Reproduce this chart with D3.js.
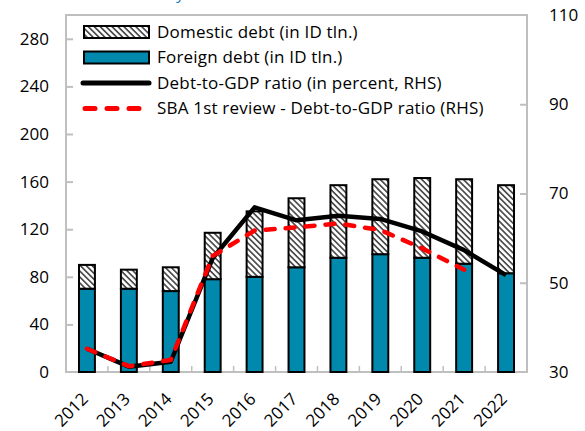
<!DOCTYPE html>
<html>
<head>
<meta charset="utf-8">
<script src="https://cdn.jsdelivr.net/npm/d3@7"></script>
<style>
  body { margin: 0; background: #fff; }
  svg { display: block; font-family: "Open Sans", "Noto Sans", sans-serif; }
</style>
</head>
<body>
<div id="container"></div>
<script>
const years = ["2012", "2013", "2014", "2015", "2016", "2017", "2018", "2019", "2020", "2021", "2022"];
const foreignDebt = [70, 70, 68, 78, 80, 88, 96, 99, 96, 91, 83];
const domesticDebt = [20, 16, 20, 39, 55, 58, 61, 63, 67, 71, 74];
const debtToGdp = [35.2, 31.2, 32.3, 55.5, 66.9, 64, 65, 64.3, 61.5, 57.3, 51.7];
const sbaReview = [35.2, 31.3, 32.7, 56, 61.7, 62.4, 63.3, 61.8, 57.7, 52.9];
const leftTicks = [0, 40, 80, 120, 160, 200, 240, 280];
const rightTicks = [30, 50, 70, 90, 110];

const width = 585;
const height = 431;
const marginTop = 15;
const marginRight = 58;
const marginBottom = 59;
const marginLeft = 66;

const svg = d3.select("#container")
  .append("svg")
  .attr("width", width)
  .attr("height", height);

const defs = svg.append("defs");
const hatch = defs.append("pattern")
  .attr("id", "hatch")
  .attr("patternUnits", "userSpaceOnUse")
  .attr("width", 4.2)
  .attr("height", 4.2)
  .attr("patternTransform", "rotate(45)");
hatch.append("rect").attr("width", 4.2).attr("height", 4.2).attr("fill", "#fff");
hatch.append("rect").attr("width", 4.2).attr("height", 1.7).attr("fill", "#4d4d4d");

const x = d3.scaleBand()
  .domain(years)
  .range([marginLeft, width - marginRight])
  .paddingInner(0.62)
  .paddingOuter(0.31);

const xLine = d => x(d) + x.bandwidth() / 2;

const y = d3.scaleLinear()
  .domain([0, 300])
  .range([height - marginBottom, marginTop]);

const y2 = d3.scaleLinear()
  .domain([30, 110])
  .range([height - marginBottom, marginTop]);

// frame
svg.append("rect")
  .attr("x", marginLeft)
  .attr("y", marginTop)
  .attr("width", width - marginLeft - marginRight)
  .attr("height", height - marginTop - marginBottom)
  .attr("fill", "none")
  .attr("stroke", "#bfbfbf")
  .attr("stroke-width", 2);

// title fragment, cut off at the top in the source
svg.append("text")
  .attr("x", 176)
  .attr("y", -1)
  .attr("fill", "#1f7fc4")
  .attr("font-size", 17)
  .text("y");

// left axis
const yAxis = svg.append("g")
  .attr("transform", `translate(${marginLeft},0)`)
  .call(d3.axisRight(y).tickValues(leftTicks).tickSize(7));
yAxis.select(".domain").remove();
yAxis.selectAll(".tick line").attr("stroke", "#bfbfbf").attr("stroke-width", 2).attr("x1", -1);
yAxis.selectAll(".tick text")
  .attr("text-anchor", "end")
  .attr("x", -17)
  .attr("font-size", 17)
  .attr("fill", "#000")
  .attr("font-family", "Open Sans, sans-serif");
yAxis.selectAll(".tick").filter(d => d === 0).select("line").remove();

// right axis
const y2Axis = svg.append("g")
  .attr("transform", `translate(${width - marginRight},0)`)
  .call(d3.axisLeft(y2).tickValues(rightTicks).tickSize(7));
y2Axis.select(".domain").remove();
y2Axis.selectAll(".tick line").attr("stroke", "#bfbfbf").attr("stroke-width", 2).attr("x1", 1);
y2Axis.selectAll(".tick").filter(d => d === 30 || d === 110).select("line").remove();
y2Axis.selectAll(".tick text")
  .attr("text-anchor", "start")
  .attr("x", 22)
  .attr("font-size", 17)
  .attr("fill", "#000")
  .attr("font-family", "Open Sans, sans-serif");

// x axis: small ticks between categories, rotated year labels
const step = x.step();
const xAxis = svg.append("g");
xAxis.selectAll("line")
  .data(years.slice(1))
  .enter()
  .append("line")
  .attr("x1", d => x(d) - x.paddingInner() * step / 2)
  .attr("x2", d => x(d) - x.paddingInner() * step / 2)
  .attr("y1", height - marginBottom)
  .attr("y2", height - marginBottom - 6)
  .attr("stroke", "#bfbfbf")
  .attr("stroke-width", 1.5);

xAxis.selectAll("text")
  .data(years)
  .enter()
  .append("text")
  .attr("transform", d => `translate(${xLine(d) - 2},${height - marginBottom + 24}) rotate(-45)`)
  .attr("text-anchor", "end")
  .attr("dy", "0.35em")
  .attr("font-size", 17)
  .text(d => d);

// bars
const bars = svg.append("g");
bars.selectAll(".foreign")
  .data(years)
  .enter()
  .append("rect")
  .attr("class", "foreign")
  .attr("x", d => x(d))
  .attr("width", x.bandwidth())
  .attr("y", (d, i) => y(foreignDebt[i]))
  .attr("height", (d, i) => y(0) - y(foreignDebt[i]))
  .attr("fill", "#0089ad")
  .attr("stroke", "#000")
  .attr("stroke-width", 2);

bars.selectAll(".domestic")
  .data(years)
  .enter()
  .append("rect")
  .attr("class", "domestic")
  .attr("x", d => x(d))
  .attr("width", x.bandwidth())
  .attr("y", (d, i) => y(foreignDebt[i] + domesticDebt[i]))
  .attr("height", (d, i) => y(foreignDebt[i]) - y(foreignDebt[i] + domesticDebt[i]))
  .attr("fill", "url(#hatch)")
  .attr("stroke", "#000")
  .attr("stroke-width", 2);

// lines
const line = d3.line()
  .x((d, i) => xLine(years[i]))
  .y(d => y2(d));

svg.append("path")
  .datum(debtToGdp)
  .attr("d", line)
  .attr("fill", "none")
  .attr("stroke", "#000")
  .attr("stroke-width", 4.5)
  .attr("stroke-linejoin", "round");

svg.append("path")
  .datum(sbaReview)
  .attr("d", line)
  .attr("fill", "none")
  .attr("stroke", "#ff0000")
  .attr("stroke-width", 4.5)
  .attr("stroke-linecap", "round")
  .attr("stroke-dasharray", "9 11");

// legend
const legendItems = [
  { label: "Domestic debt (in ID tln.)", type: "hatch" },
  { label: "Foreign debt (in ID tln.)", type: "bar" },
  { label: "Debt-to-GDP ratio (in percent, RHS)", type: "line" },
  { label: "SBA 1st review - Debt-to-GDP ratio (RHS)", type: "dash" }
];

const legend = svg.append("g");
const rows = legend.selectAll("g")
  .data(legendItems)
  .enter()
  .append("g")
  .attr("transform", (d, i) => `translate(83,${32 + i * 25.5})`);

rows.filter(d => d.type === "hatch" || d.type === "bar")
  .append("rect")
  .attr("x", 1)
  .attr("y", -6)
  .attr("width", 65)
  .attr("height", 12)
  .attr("fill", d => d.type === "hatch" ? "url(#hatch)" : "#0089ad")
  .attr("stroke", "#000")
  .attr("stroke-width", 2);

rows.filter(d => d.type === "line")
  .append("line")
  .attr("x1", 0).attr("x2", 66)
  .attr("stroke", "#000")
  .attr("stroke-width", 5)
  .attr("stroke-linecap", "round");

rows.filter(d => d.type === "dash")
  .append("line")
  .attr("x1", 2).attr("x2", 65)
  .attr("stroke", "#ff0000")
  .attr("stroke-width", 5)
  .attr("stroke-linecap", "round")
  .attr("stroke-dasharray", "10 12");

rows.append("text")
  .attr("x", 74)
  .attr("dy", "0.35em")
  .attr("font-size", 17)
  .attr("letter-spacing", 0.2)
  .text(d => d.label);
</script>
</body>
</html>
